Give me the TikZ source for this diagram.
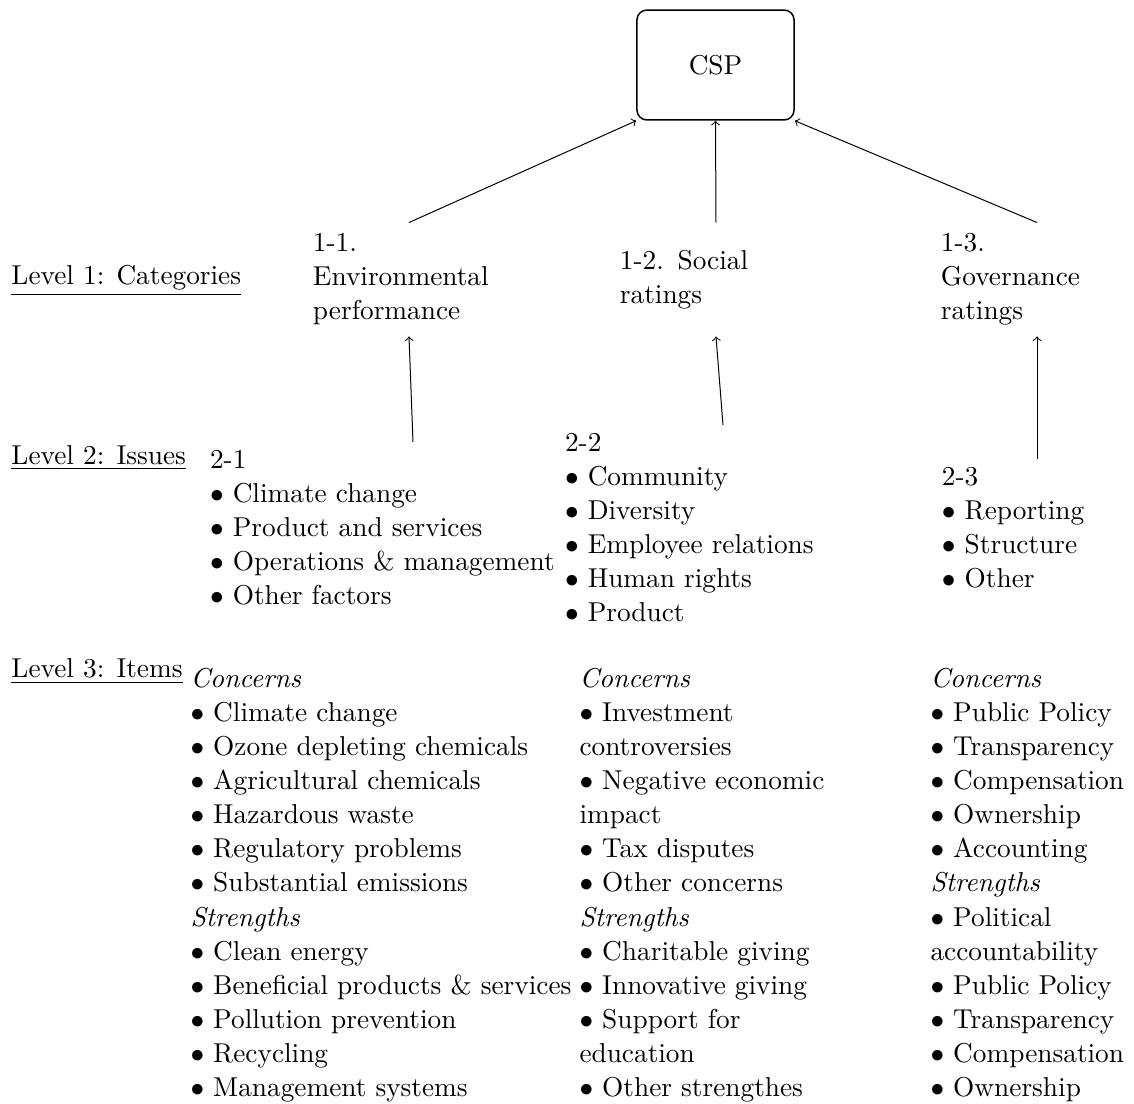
\documentclass[tikz,border=0pt]{standalone}
\newcommand{\itm}{$\bullet$ }
\begin{document}
\begin{tikzpicture}[x=0.401pt,y=-0.401pt,
  every node/.style={font=\fontsize{10.95}{13.65}\selectfont},
  lvl/.style={anchor=base west,inner sep=0pt},
  cat/.style={text width=77pt,align=left,minimum height=45.3pt,inner sep=3pt},
  issue/.style={align=left,inner sep=3pt,anchor=north},
  itemlist/.style={align=left,inner sep=0pt,anchor=north west},
  conn/.style={->,line width=0.4pt},
  cspbox/.style={draw,rounded corners=4pt,semithick,minimum width=63pt,minimum height=44.1pt}]
\useasboundingbox (0,0) rectangle (1134,1104);
% top
\node[cspbox] (csp) at (715.5,65) {CSP};
% level labels
\node[lvl] (l1) at (11,285) {\underline{Level 1: Categories}};
\node[lvl] (l2) at (11,465) {\underline{Level 2: Issues}};
\node[lvl] (l3) at (11,678) {\underline{Level 3: Items}};
% level 1
\node[cat] (n11) at (409,279.5) {1-1.\\Environmental\\performance};
\node[cat] (n12) at (716,279.5) {1-2. Social\\ratings};
\node[cat] (n13) at (1037,279.5) {1-3.\\Governance\\ratings};
% level 2
\node[issue,text width=162.8pt] (n21) at (413,442) {2-1\\\itm Climate change\\\itm Product and services\\\itm Operations \& management\\\itm Other factors};
\node[issue,text width=126.7pt] (n22) at (723,425) {2-2\\\itm Community\\\itm Diversity\\\itm Employee relations\\\itm Human rights\\\itm Product};
\node[issue,text width=76.2pt] (n23) at (1037,459) {2-3\\\itm Reporting\\\itm Structure\\\itm Other};
% level 3
\node[itemlist] (n31) at (190,668) {\textit{Concerns}\\\itm Climate change\\\itm Ozone depleting chemicals\\\itm Agricultural chemicals\\\itm Hazardous waste\\\itm Regulatory problems\\\itm Substantial emissions\\\textit{Strengths}\\\itm Clean energy\\\itm Beneficial products \& services\\\itm Pollution prevention\\\itm Recycling\\\itm Management systems};
\node[itemlist] (n32) at (579,668) {\textit{Concerns}\\\itm Investment\\controversies\\\itm Negative economic\\impact\\\itm Tax disputes\\\itm Other concerns\\\textit{Strengths}\\\itm Charitable giving\\\itm Innovative giving\\\itm Support for\\education\\\itm Other strengthes};
\node[itemlist] (n33) at (930,668) {\textit{Concerns}\\\itm Public Policy\\\itm Transparency\\\itm Compensation\\\itm Ownership\\\itm Accounting\\\textit{Strengths}\\\itm Political\\accountability\\\itm Public Policy\\\itm Transparency\\\itm Compensation\\\itm Ownership};
% connectors
\draw[conn] (n11.north) -- (csp.south west);
\draw[conn] (n12.north) -- (csp.south);
\draw[conn] (n13.north) -- (csp.south east);
\draw[conn] (n21.north) -- (n11.south);
\draw[conn] (n22.north) -- (n12.south);
\draw[conn] (n23.north) -- (n13.south);
\end{tikzpicture}
\end{document}
